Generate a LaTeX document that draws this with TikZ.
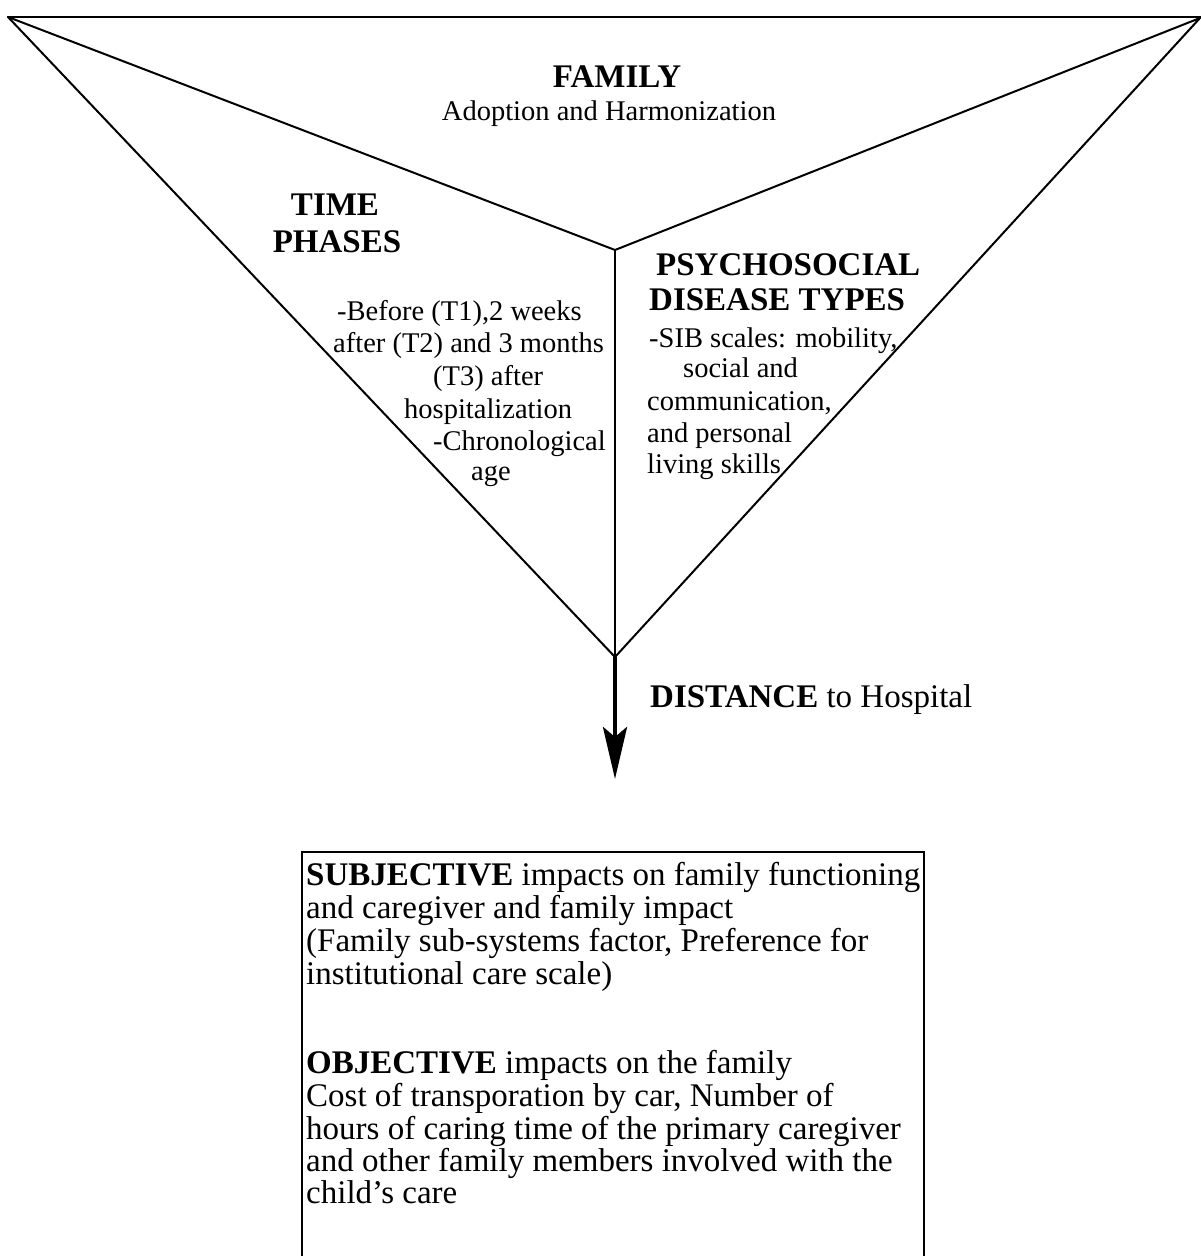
\documentclass[tikz,border=0pt]{standalone}
\usepackage{fontspec}
\setmainfont{Liberation Serif}
\usetikzlibrary{arrows.meta}
\tikzset{
  hdr/.style={font=\fontsize{33}{33}\selectfont\bfseries, inner sep=0pt, anchor=base},
  hdrw/.style={font=\fontsize{33}{33}\selectfont\bfseries, inner sep=0pt, anchor=base west},
  smc/.style={font=\fontsize{28.5}{28.5}\selectfont, inner sep=0pt, anchor=base},
  sm/.style={font=\fontsize{28.5}{28.5}\selectfont, inner sep=0pt, anchor=base west},
  bx/.style={font=\fontsize{33}{33}\selectfont, inner sep=0pt, anchor=base west},
  ln/.style={line width=2pt, line join=miter, line cap=round},
  bigarrow/.style={line width=4.5pt, -{Stealth[length=52pt,width=24pt,inset=10pt]}}
}
\begin{document}
\begin{tikzpicture}[x=1pt,y=-1pt]
\useasboundingbox (0,0) rectangle (1201,1256);
% key points
\coordinate (tl) at (8,17);
\coordinate (tr) at (1200,18);
\coordinate (tre) at (1201,17);
\coordinate (v) at (615,250);
\coordinate (b) at (615,657);
\coordinate (tip) at (615,779);
% funnel
\draw[ln] (tl) -- (tre);
\draw[ln] (tl) -- (v) -- (tr);
\draw[ln] (tl) -- (b) -- (tr);
\draw[ln] (v) -- (b);
% arrow
\draw[bigarrow] (b) -- (tip);
% box (bottom edge outside the picture)
\coordinate (bxbl) at (302,1258);
\coordinate (bxtl) at (302,852);
\coordinate (bxtr) at (924,852);
\coordinate (bxbr) at (924,1258);
\draw[ln, line cap=butt] (bxbl) -- (bxtl) -- (bxtr) -- (bxbr);
% FAMILY
\node[hdr] (fam) at (617,87) {FAMILY};
\node[smc] (adopt) at (609,120) {Adoption and Harmonization};
% TIME PHASES
\node[hdr] (time) at (335,215) {TIME};
\node[hdr] (phases) at (337,252) {PHASES};
\node[sm] (t1) at (337,320) {-Before (T1),2 weeks};
\node[sm] (t2) at (333,352) {after (T2) and 3 months};
\node[sm] (t3) at (433,385) {(T3) after};
\node[sm] (t4) at (404,418) {hospitalization};
\node[sm] (t5) at (433,450) {-Chronological};
\node[sm] (t6) at (471,480) {age};
% PSYCHOSOCIAL
\node[hdrw] (psy) at (656,275) {PSYCHOSOCIAL};
\node[hdrw] (dis) at (649,310) {DISEASE TYPES};
\node[sm] (p1) at (649,347) {-SIB scales: mobility,};
\node[sm] (p2) at (683,377) {social and};
\node[sm] (p3) at (647,410) {communication,};
\node[sm] (p4) at (647,442) {and personal};
\node[sm] (p5) at (647,473) {living skills};
% DISTANCE
\node[bx] (dist) at (650,707) {\textbf{DISTANCE} to Hospital};
% box text
\node[bx] (s1) at (306,885) {\textbf{SUBJECTIVE} impacts on family functioning};
\node[bx] (s2) at (306,918) {and caregiver and family impact};
\node[bx] (s3) at (306,951) {(Family sub-systems factor, Preference for};
\node[bx] (s4) at (306,984) {institutional care scale)};
\node[bx] (o1) at (306,1073) {\textbf{OBJECTIVE} impacts on the family};
\node[bx] (o2) at (306,1106) {Cost of transporation by car, Number of};
\node[bx] (o3) at (306,1139) {hours of caring time of the primary caregiver};
\node[bx] (o4) at (306,1171) {and other family members involved with the};
\node[bx] (o5) at (306,1203) {child’s care};
\end{tikzpicture}
\end{document}
